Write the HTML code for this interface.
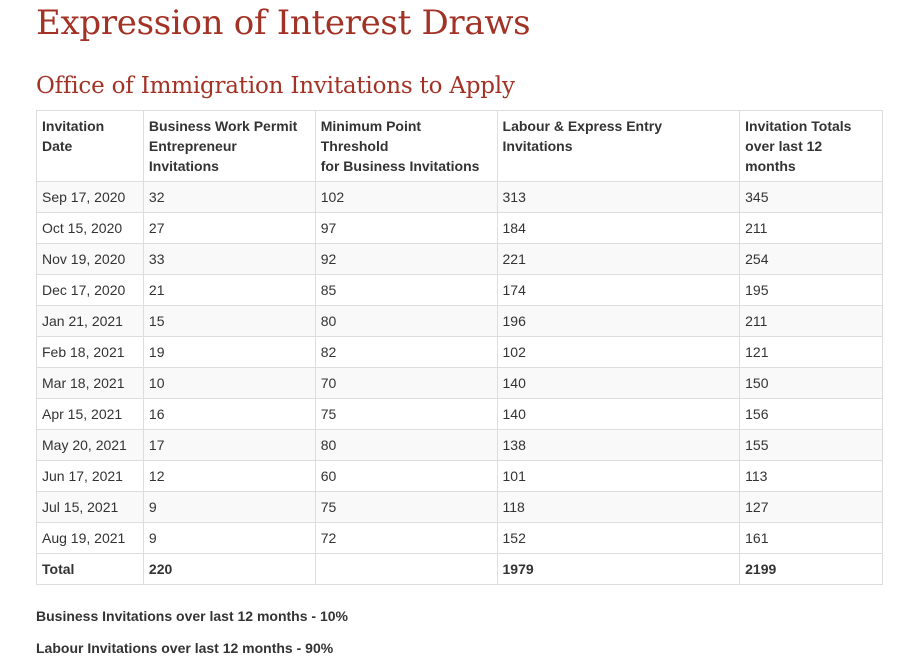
<!DOCTYPE html>
<html><head><meta charset="utf-8"><style>
body{margin:0;background:#fff;width:904px;height:665px;overflow:hidden;font-family:"Liberation Sans",Arial,sans-serif;color:#333;position:relative}
h1{position:absolute;left:36px;top:3px;margin:0;font-family:"DejaVu Serif","Liberation Serif",serif;font-weight:normal;font-size:34px;color:#a33226;letter-spacing:-0.3px}
h2{position:absolute;left:36px;top:73px;margin:0;font-family:"DejaVu Serif","Liberation Serif",serif;font-weight:normal;font-size:23px;color:#a33226;letter-spacing:-0.2px}
table{position:absolute;left:36px;top:110px;border-collapse:collapse;width:847px;font-size:14px}
td,th{border:1px solid #ddd;padding:0 5px;text-align:left;vertical-align:middle;height:30px}
th{vertical-align:top;height:71px;padding-top:5px;box-sizing:border-box;line-height:20px;font-weight:bold}
tbody tr:nth-child(odd){background:#f9f9f9}
tr.total td{font-weight:bold;background:#fff}
p{position:absolute;left:36px;margin:0;font-size:14px;font-weight:bold}
</style></head><body>
<h1>Expression of Interest Draws</h1>
<h2>Office of Immigration Invitations to Apply</h2>
<table>
<colgroup><col style="width:107px"><col style="width:172px"><col style="width:182px"><col style="width:243px"><col style="width:143px"></colgroup>
<thead><tr>
<th>Invitation<br>Date</th><th>Business Work Permit<br>Entrepreneur<br>Invitations</th><th>Minimum Point<br>Threshold<br>for Business Invitations</th><th>Labour &amp; Express Entry<br>Invitations</th><th>Invitation Totals<br>over last 12<br>months</th></tr></thead>
<tbody id="tb"></tbody></table>
<p style="top:608px">Business Invitations over last 12 months - 10%</p>
<p style="top:640px">Labour Invitations over last 12 months - 90%</p>
<script>
const dates=["Sep 17, 2020","Oct 15, 2020","Nov 19, 2020","Dec 17, 2020","Jan 21, 2021","Feb 18, 2021","Mar 18, 2021","Apr 15, 2021","May 20, 2021","Jun 17, 2021","Jul 15, 2021","Aug 19, 2021"];
const business=[32,27,33,21,15,19,10,16,17,12,9,9];
const threshold=[102,97,92,85,80,82,70,75,80,60,75,72];
const labour=[313,184,221,174,196,102,140,140,138,101,118,152];
const totals=[345,211,254,195,211,121,150,156,155,113,127,161];
const tb=document.getElementById('tb');
dates.forEach((d,i)=>{
 const tr=document.createElement('tr');
 
 
 [d,business[i],threshold[i],labour[i],totals[i]].forEach(v=>{const td=document.createElement('td');td.textContent=v;tr.appendChild(td);});
 tb.appendChild(tr);
});
const tr=document.createElement('tr');tr.className='total';


["Total","220","","1979","2199"].forEach(v=>{const td=document.createElement('td');td.textContent=v;tr.appendChild(td);});
tb.appendChild(tr);
</script>
</body></html>
